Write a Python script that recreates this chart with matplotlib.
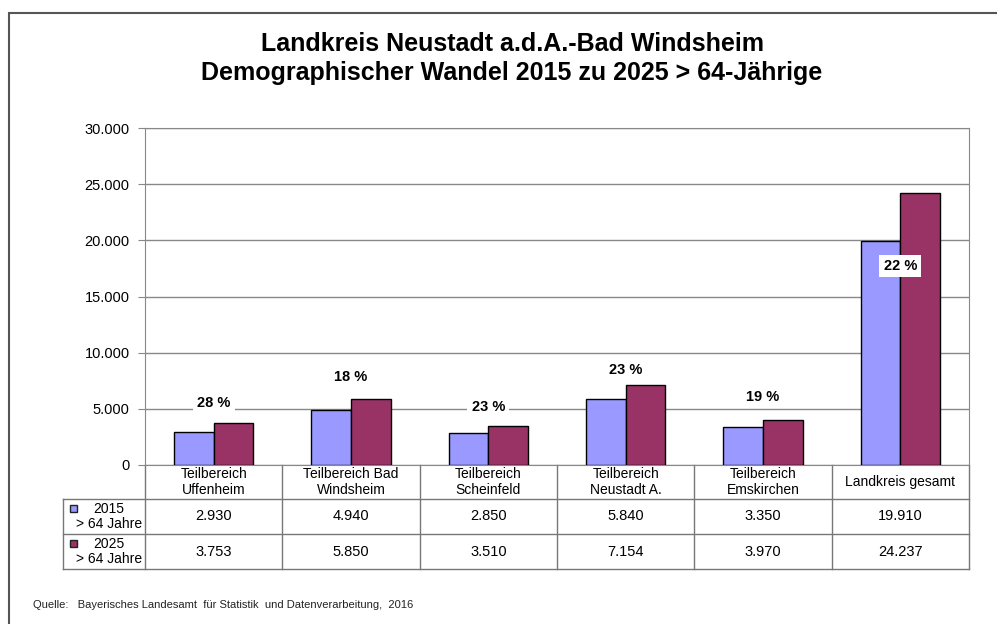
import matplotlib.pyplot as plt
from matplotlib.patches import Rectangle

plt.rcParams['font.family'] = ['Liberation Sans', 'DejaVu Sans']

# data
categories = ["Teilbereich\nUffenheim", "Teilbereich Bad\nWindsheim", "Teilbereich\nScheinfeld",
              "Teilbereich\nNeustadt A.", "Teilbereich\nEmskirchen", "Landkreis gesamt"]
values_2015 = [2930, 4940, 2850, 5840, 3350, 19910]
values_2025 = [3753, 5850, 3510, 7154, 3970, 24237]
labels_2015 = ["2.930", "4.940", "2.850", "5.840", "3.350", "19.910"]
labels_2025 = ["3.753", "5.850", "3.510", "7.154", "3.970", "24.237"]
pct_labels = ["28 %", "18 %", "23 %", "23 %", "19 %", "22 %"]
pct_y = [5500, 7800, 5150, 8450, 6050, 17700]
yticks = [0, 5000, 10000, 15000, 20000, 25000, 30000]
ytick_labels = ["0", "5.000", "10.000", "15.000", "20.000", "25.000", "30.000"]
series_names = ["2015\n> 64 Jahre", "2025\n> 64 Jahre"]
c2015 = "#9999FF"
c2025 = "#993366"

W, H = 997, 624
fig = plt.figure(figsize=(W / 100, H / 100), dpi=100)

# outer frame
fig.patches.append(Rectangle((9 / W, -0.05), 1.2, 1 - 13 / H + 0.05, transform=fig.transFigure,
                             fill=False, edgecolor="#555555", lw=1.5))

ax = fig.add_axes([145 / W, 1 - 465 / H, 824 / W, 337 / H])
x = list(range(len(categories)))
bw = 0.29
ax.bar([i - bw / 2 for i in x], values_2015, bw, color=c2015, edgecolor="black", lw=1, zorder=3)
ax.bar([i + bw / 2 for i in x], values_2025, bw, color=c2025, edgecolor="black", lw=1, zorder=3)

for i, (t, yv) in enumerate(zip(pct_labels, pct_y)):
    ax.text(i, yv, t, ha="center", va="center", fontsize=10.5, fontweight="bold", zorder=5,
            bbox=dict(facecolor="white", edgecolor="none", pad=3))

ax.set_xlim(-0.5, len(categories) - 0.5)
ax.set_ylim(0, 30000)
ax.set_yticks(yticks)
ax.set_yticklabels(ytick_labels, fontsize=10.5)
ax.set_xticks([])
ax.yaxis.grid(True, color="#888888", lw=1)
ax.set_axisbelow(True)
ax.tick_params(axis="y", length=5, color="#888888", pad=6)
for s in ax.spines.values():
    s.set_color("#888888")

# data table below the axes (axes-fraction units for y)
tr = ax.get_xaxis_transform()
row_h = [34 / 337, 35 / 337, 35 / 337]
y0 = 0
y1 = -row_h[0]
y2 = y1 - row_h[1]
y3 = y2 - row_h[2]
left = -0.5 - 82 / 137.3
n = len(categories)
lc = "#777777"
for b in range(n + 1):
    ax.plot([b - 0.5, b - 0.5], [y0, y3], transform=tr, color=lc, lw=1, clip_on=False)
ax.plot([left, left], [y1, y3], transform=tr, color=lc, lw=1, clip_on=False)
for yy in (y1, y2, y3):
    ax.plot([left, n - 0.5], [yy, yy], transform=tr, color=lc, lw=1, clip_on=False)

for i in x:
    ax.text(i, (y0 + y1) / 2, categories[i], transform=tr, ha="center", va="center",
            fontsize=10, linespacing=1.25)
    ax.text(i, (y1 + y2) / 2, labels_2015[i], transform=tr, ha="center", va="center", fontsize=10.5)
    ax.text(i, (y2 + y3) / 2, labels_2025[i], transform=tr, ha="center", va="center", fontsize=10.5)

for k, (name, col) in enumerate(zip(series_names, [c2015, c2025])):
    yc = [(y1 + y2) / 2, (y2 + y3) / 2][k]
    ax.add_patch(Rectangle((left + 0.05, yc + 0.012), 0.055, 0.022, transform=tr, facecolor=col,
                           edgecolor="#222222", lw=1, clip_on=False))
    ax.text(-0.52, yc, name, transform=tr, ha="right", va="center", fontsize=10,
            linespacing=1.05, multialignment="center")

fig.text(512 / W, 1 - 44 / H, "Landkreis Neustadt a.d.A.-Bad Windsheim",
         ha="center", va="center", fontsize=18, fontweight="bold")
fig.text(512 / W, 1 - 73 / H, "Demographischer Wandel 2015 zu 2025 > 64-Jährige",
         ha="center", va="center", fontsize=18, fontweight="bold")
fig.text(33 / W, 1 - 605 / H, "Quelle:   Bayerisches Landesamt  für Statistik  und Datenverarbeitung,  2016",
         ha="left", va="center", fontsize=8, color="#222222")

fig.savefig("out.png", dpi=100)
